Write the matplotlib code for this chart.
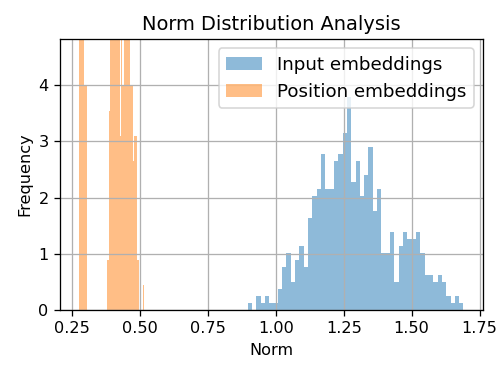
import numpy as np
import matplotlib
matplotlib.use("Agg")
import matplotlib.pyplot as plt

# histogram counts (50 bins each), plotted as density
input_range = (0.896, 1.691)
input_counts = [1, 0, 2, 1, 2, 1, 1, 3, 6, 8,
                4, 7, 9, 6, 13, 16, 17, 22, 17, 17,
                21, 22, 25, 30, 18, 21, 16, 19, 23, 14,
                17, 8, 8, 11, 4, 9, 11, 10, 10, 11,
                8, 5, 5, 4, 5, 4, 2, 1, 2, 1]

position_range = (0.276, 0.516)
position_counts = [20, 30, 28, 18, 9, 9, 0, 0, 0, 0,
                   0, 0, 0, 0, 0, 0, 0, 0, 0, 0,
                   0, 2, 2, 8, 11, 22, 11, 30, 28, 24,
                   20, 7, 18, 9, 28, 30, 11, 27, 25, 9,
                   9, 6, 7, 7, 2, 2, 0, 0, 0, 1]

x_ticks = [0.25, 0.50, 0.75, 1.00, 1.25, 1.50, 1.75]
n_bins = 50
y_top = 4.82


def hist_from_counts(ax, counts, lo_hi, label):
    edges = np.linspace(lo_hi[0], lo_hi[1], n_bins + 1)
    centers = (edges[:-1] + edges[1:]) / 2
    ax.hist(centers, bins=edges, weights=counts, density=True, alpha=0.5, label=label)


dpi = 116
fig, ax = plt.subplots(figsize=(500 / dpi, 369 / dpi), dpi=dpi)
fig.subplots_adjust(left=0.12, right=0.9654, bottom=0.16, top=0.8935)

hist_from_counts(ax, input_counts, input_range, "Input embeddings")
hist_from_counts(ax, position_counts, position_range, "Position embeddings")

ax.set_ylim(0, y_top)
ax.set_xticks(x_ticks)
ax.set_xticklabels([f"{t:.2f}" for t in x_ticks])
ax.set_title("Norm Distribution Analysis")
ax.set_xlabel("Norm")
ax.set_ylabel("Frequency")
ax.legend(loc="upper right", fontsize=11.3)
ax.grid(True)

fig.savefig("out.png", dpi=dpi)
